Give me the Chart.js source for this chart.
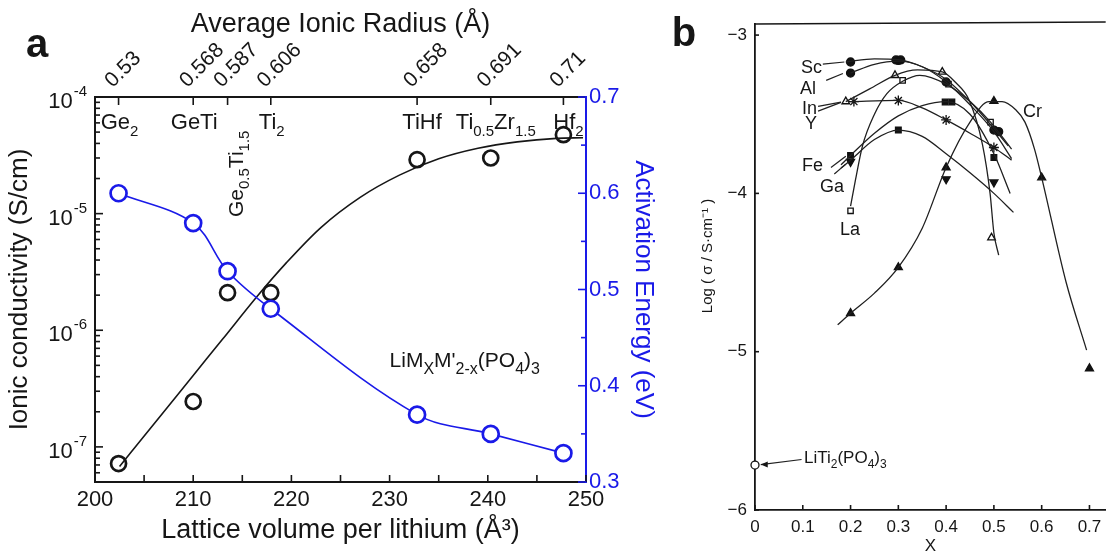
<!DOCTYPE html>
<html>
<head>
<meta charset="utf-8">
<script src="https://cdn.jsdelivr.net/npm/chart.js@4.4.1/dist/chart.umd.min.js"></script>
<style>
  html, body { margin: 0; padding: 0; background: #fff; width: 1112px; height: 552px; overflow: hidden; }
  #wrapA { position: absolute; left: 0; top: 0; width: 680px; height: 552px; }
  #wrapB { position: absolute; left: 660px; top: 0; width: 452px; height: 552px; }
</style>
</head>
<body>
<div id="wrapA"><canvas id="chartA" width="680" height="552"></canvas></div>
<div id="wrapB"><canvas id="chartB" width="452" height="552"></canvas></div>
<script>
// ---------- panel a data ----------
var volumes = [202.4, 210.0, 213.5, 217.9, 232.8, 240.3, 247.7];
var radiusLabels = ['0.53', '0.568', '0.587', '0.606', '0.658', '0.691', '0.71'];
var conductivity = [7.2e-8, 2.45e-7, 2.1e-6, 2.1e-6, 2.9e-5, 3.0e-5, 4.75e-5];
var activation = [0.600, 0.569, 0.519, 0.480, 0.370, 0.350, 0.330];
// black fit line
var fitVolume = [202.5, 206, 210, 213, 216.5, 219.5, 223, 227, 231, 235, 239, 243, 247, 249.7];
var fitConductivity = [6.8e-8, 1.57e-7, 4.1e-7, 8.4e-7, 1.95e-6, 3.8e-6, 7.6e-6, 1.38e-5, 2.14e-5, 2.95e-5, 3.63e-5, 4.12e-5, 4.42e-5, 4.47e-5];
var compositionLabels = [
  [['Ge', 0], ['2', 1]],
  [['GeTi', 0]],
  [['Ge', 0], ['0.5', 1], ['Ti', 0], ['1.5', 1]],
  [['Ti', 0], ['2', 1]],
  [['TiHf', 0]],
  [['Ti', 0], ['0.5', 1], ['Zr', 0], ['1.5', 1]],
  [['Hf', 0], ['2', 1]]
];
var formulaLabel = [['LiM', 0], ['X', 1], ["M'", 0], ['2-x', 1], ['(PO', 0], ['4', 1], [')', 0], ['3', 1]];
var xMajorTicks = [200, 210, 220, 230, 240, 250];
var xMinorTicks = [205, 215, 225, 235, 245];
var yMajorTicks = [1e-7, 1e-6, 1e-5, 1e-4];
var yTickExponents = ['-7', '-6', '-5', '-4'];
var eMajorTicks = [0.3, 0.4, 0.5, 0.6, 0.7];
var eMinorTicks = [0.35, 0.45, 0.55, 0.65];

// ---------- panel b data (x, log sigma) ----------
var scCurve = [[0.19, -3.17], [0.25, -3.15], [0.3, -3.155], [0.35, -3.2], [0.4, -3.28], [0.45, -3.42], [0.5, -3.59], [0.53, -3.7]];
var alCurve = [[0.2, -3.24], [0.25, -3.185], [0.3, -3.165], [0.35, -3.2], [0.4, -3.296], [0.45, -3.44], [0.5, -3.61], [0.537, -3.78]];
var inCurve = [[0.19, -3.42], [0.24, -3.34], [0.293, -3.254], [0.34, -3.22], [0.392, -3.233], [0.42, -3.3], [0.448, -3.41], [0.476, -3.69], [0.492, -4.0], [0.5, -4.25], [0.51, -4.39]];
var yCurve = [[0.2, -3.42], [0.3, -3.413], [0.35, -3.46], [0.4, -3.536], [0.45, -3.62], [0.5, -3.71], [0.537, -3.79]];
var laCurve = [[0.2, -4.08], [0.21, -3.92], [0.225, -3.7], [0.25, -3.5], [0.276, -3.37], [0.31, -3.29], [0.345, -3.254], [0.4, -3.31], [0.45, -3.42], [0.493, -3.55], [0.537, -3.72]];
var feCurve = [[0.18, -3.82], [0.2, -3.76], [0.25, -3.62], [0.3, -3.51], [0.35, -3.445], [0.4, -3.42], [0.45, -3.5], [0.5, -3.75], [0.534, -4.0]];
var gaCurve = [[0.18, -3.84], [0.2, -3.79], [0.25, -3.66], [0.3, -3.6], [0.35, -3.64], [0.4, -3.75], [0.45, -3.87], [0.5, -4.0], [0.541, -4.12]];
var crCurve = [[0.173, -4.83], [0.2, -4.757], [0.25, -4.63], [0.3, -4.467], [0.35, -4.22], [0.4, -3.836], [0.45, -3.55], [0.49, -3.42], [0.517, -3.42], [0.545, -3.47], [0.565, -3.55], [0.585, -3.72], [0.6, -3.9], [0.651, -4.56], [0.694, -4.99]];

var scPoints = [[0.2, -3.17], [0.295, -3.157], [0.305, -3.157], [0.5, -3.6]];
var alPoints = [[0.2, -3.24], [0.3, -3.16], [0.4, -3.296], [0.51, -3.61]];
var inPoints = [[0.19, -3.42], [0.293, -3.254], [0.392, -3.233], [0.495, -4.28]];
var yPoints = [[0.207, -3.42], [0.3, -3.413], [0.4, -3.536], [0.5, -3.71]];
var laPoints = [[0.2, -4.11], [0.309, -3.286], [0.405, -3.31], [0.493, -3.55]];
var fePoints = [[0.2, -3.76], [0.3, -3.6], [0.398, -3.423], [0.412, -3.423], [0.5, -3.773]];
var gaPoints = [[0.2, -3.80], [0.4, -3.91], [0.5, -3.93]];
var crPoints = [[0.2, -4.757], [0.3, -4.467], [0.4, -3.836], [0.5, -3.417], [0.6, -3.9], [0.7, -5.106]];
var litiPoint = [[0, -5.716]];

var scLeader = [[0.142, -3.184], [0.187, -3.17]];
var alLeader = [[0.149, -3.286], [0.184, -3.243]];
var inLeaderA = [[0.132, -3.45], [0.18, -3.423]];
var inLeaderB = [[0.132, -3.48], [0.18, -3.425]];
var feLeader = [[0.159, -3.836], [0.19, -3.765]];
var gaLeader = [[0.166, -3.878], [0.19, -3.815]];
var litiLeader = [[0.012, -5.713], [0.0975, -5.681]];

var bXTicks = [0, 0.1, 0.2, 0.3, 0.4, 0.5, 0.6, 0.7];
var bYTicks = [-6, -5, -4, -3];

var FONT = "'Liberation Sans', Arial, Helvetica, sans-serif";
var BLUE = '#1a1ae8';
var INK = '#161616';
Chart.defaults.font.family = FONT;
Chart.defaults.color = INK;

function pts(arr) { return arr.map(function (p) { return { x: p[0], y: p[1] }; }); }

// text with subscripts; y is the baseline
function drawRich(ctx, parts, x, y, size, subSize, align) {
  var w = 0;
  parts.forEach(function (p) {
    ctx.font = (p[1] ? subSize : size) + 'px ' + FONT;
    w += ctx.measureText(p[0]).width;
  });
  var cx = align === 'center' ? x - w / 2 : x;
  ctx.textAlign = 'left';
  ctx.textBaseline = 'alphabetic';
  parts.forEach(function (p) {
    ctx.font = (p[1] ? subSize : size) + 'px ' + FONT;
    ctx.fillText(p[0], cx, y + (p[1] ? size * 0.3 : 0));
    cx += ctx.measureText(p[0]).width;
  });
}

function tickMarks(ctx, scale, values, len, color, side) {
  ctx.save();
  ctx.strokeStyle = color;
  ctx.lineWidth = 1.6;
  values.forEach(function (v) {
    var p = scale.getPixelForValue(v);
    ctx.beginPath();
    if (side === 'bottom') { ctx.moveTo(p, scale.top); ctx.lineTo(p, scale.top - len); }
    if (side === 'top') { ctx.moveTo(p, scale.bottom); ctx.lineTo(p, scale.bottom + len); }
    if (side === 'left') { ctx.moveTo(scale.right, p); ctx.lineTo(scale.right + len, p); }
    if (side === 'right') { ctx.moveTo(scale.left, p); ctx.lineTo(scale.left - len, p); }
    ctx.stroke();
  });
  ctx.restore();
}

var logMinor = [];
[1e-8, 1e-7, 1e-6, 1e-5].forEach(function (d) {
  for (var k = 2; k <= 9; k++) { if (k * d >= 5e-8) logMinor.push(k * d); }
});

var panelAExtras = {
  id: 'panelAExtras',
  afterDraw: function (chart) {
    var ctx = chart.ctx, s = chart.scales, area = chart.chartArea;
    tickMarks(ctx, s.x, xMajorTicks.concat(xMinorTicks), 7, INK, 'bottom');
    tickMarks(ctx, s.x2, volumes, 8, INK, 'top');
    tickMarks(ctx, s.y, yMajorTicks, 8, INK, 'left');
    tickMarks(ctx, s.y, logMinor, 5, INK, 'left');
    tickMarks(ctx, s.y1, eMajorTicks, 8, BLUE, 'right');
    tickMarks(ctx, s.y1, eMinorTicks, 5, BLUE, 'right');

    ctx.save();
    ctx.fillStyle = INK;
    // log tick labels: 10 with a raised exponent
    yMajorTicks.forEach(function (v, i) {
      var py = s.y.getPixelForValue(v);
      ctx.textAlign = 'right';
      ctx.textBaseline = 'alphabetic';
      ctx.font = '15px ' + FONT;
      var ew = ctx.measureText(yTickExponents[i]).width;
      ctx.fillText(yTickExponents[i], 87, py - 1);
      ctx.font = '22px ' + FONT;
      ctx.fillText('10', 86 - ew, py + 11);
    });

    compositionLabels.forEach(function (parts, i) {
      var px = s.x.getPixelForValue(volumes[i]);
      if (i === 2) {
        ctx.save();
        ctx.translate(px + 15, area.top + 120);
        ctx.rotate(-Math.PI / 2);
        drawRich(ctx, parts, 0, 0, 21, 15, 'left');
        ctx.restore();
      } else {
        drawRich(ctx, parts, px + (i >= 4 ? 5 : 1), area.top + 32, 22, 15, 'center');
      }
    });
    drawRich(ctx, formulaLabel, s.x.getPixelForValue(230), s.y.getPixelForValue(4.8e-7), 21, 16, 'left');

    ctx.font = 'bold 40px ' + FONT;
    ctx.textAlign = 'center';
    ctx.textBaseline = 'middle';
    ctx.fillText('a', 37, 46);
    ctx.restore();
  }
};

new Chart(document.getElementById('chartA'), {
  type: 'scatter',
  data: {
    datasets: [
      {
        data: fitVolume.map(function (v, i) { return { x: v, y: fitConductivity[i] }; }),
        yAxisID: 'y', showLine: true, borderColor: INK, borderWidth: 1.6,
        pointRadius: 0, cubicInterpolationMode: 'monotone', order: 3
      },
      {
        data: volumes.map(function (v, i) { return { x: v, y: conductivity[i] }; }),
        yAxisID: 'y', pointRadius: 7.5, pointBorderWidth: 2.7,
        pointBorderColor: INK, pointBackgroundColor: 'rgba(0,0,0,0)', order: 2
      },
      {
        data: volumes.map(function (v, i) { return { x: v, y: activation[i] }; }),
        yAxisID: 'y1', showLine: true, borderColor: BLUE, borderWidth: 1.6,
        tension: 0.35, pointRadius: 8, pointBorderWidth: 2.7,
        pointBorderColor: BLUE, pointBackgroundColor: '#fff', order: 1
      }
    ]
  },
  options: {
    responsive: false, animation: false, events: [],
    layout: { padding: 0 },
    plugins: { legend: { display: false }, tooltip: { enabled: false } },
    scales: {
      x: {
        type: 'linear', position: 'bottom', min: 200, max: 250,
        afterBuildTicks: function (sc) { sc.ticks = xMajorTicks.map(function (v) { return { value: v }; }); },
        ticks: { font: { size: 22 }, color: INK, padding: 5, maxRotation: 0, autoSkip: false },
        grid: { drawOnChartArea: false, drawTicks: false },
        border: { color: INK, width: 2 },
        title: { display: true, text: 'Lattice volume per lithium (\u00C5\u00B3)', font: { size: 27 }, color: INK, padding: { top: 0, bottom: 5 } },
        afterFit: function (sc) { sc.height = 70; }
      },
      x2: {
        type: 'linear', position: 'top', min: 200, max: 250,
        afterBuildTicks: function (sc) { sc.ticks = volumes.map(function (v) { return { value: v }; }); },
        ticks: {
          callback: function (v, i) { return radiusLabels[i]; },
          minRotation: 45, maxRotation: 45, autoSkip: false,
          font: { size: 21 }, color: INK, padding: 4, labelOffset: 8
        },
        grid: { drawOnChartArea: false, drawTicks: false },
        border: { color: INK, width: 2 },
        title: { display: true, text: 'Average Ionic Radius (\u00C5)', font: { size: 27 }, color: INK, padding: { top: 8, bottom: 0 } },
        afterFit: function (sc) { sc.height = 97; }
      },
      y: {
        type: 'logarithmic', position: 'left', min: 5e-8, max: 1e-4,
        afterBuildTicks: function (sc) { sc.ticks = yMajorTicks.map(function (v) { return { value: v }; }); },
        ticks: { display: false },
        grid: { drawOnChartArea: false, drawTicks: false },
        border: { color: INK, width: 2 },
        title: { display: true, text: 'Ionic conductivity (S/cm)', font: { size: 26 }, color: INK, padding: { top: 4, bottom: 0 } },
        afterFit: function (sc) { sc.width = 95; }
      },
      y1: {
        type: 'linear', position: 'right', min: 0.3, max: 0.7,
        afterBuildTicks: function (sc) { sc.ticks = eMajorTicks.map(function (v) { return { value: v }; }); },
        ticks: { callback: function (v) { return v.toFixed(1); }, font: { size: 22 }, color: BLUE, padding: 3, autoSkip: false },
        grid: { drawOnChartArea: false, drawTicks: false },
        border: { color: BLUE, width: 2 },
        title: { display: true, text: 'Activation Energy (eV)', font: { size: 26 }, color: BLUE, padding: { top: 21, bottom: 0 } },
        afterFit: function (sc) { sc.width = 94; }
      }
    }
  },
  plugins: [panelAExtras]
});

// ---------- panel b ----------
var bLabels = [
  ['Sc', 141, 68], ['Al', 140, 89], ['In', 142, 109], ['Y', 145, 124],
  ['Fe', 142, 166], ['Ga', 160, 187], ['La', 180, 230], ['Cr', 363, 112]
];

var panelBExtras = {
  id: 'panelBExtras',
  afterDraw: function (chart) {
    var ctx = chart.ctx, s = chart.scales, area = chart.chartArea;
    tickMarks(ctx, s.x, bXTicks, 5, INK, 'bottom');
    tickMarks(ctx, s.y, bYTicks, 4, INK, 'left');
    ctx.save();
    ctx.strokeStyle = INK;
    ctx.lineWidth = 1.6;
    ctx.beginPath();
    ctx.moveTo(area.left, area.top);
    ctx.lineTo(area.right, area.top - 2);
    ctx.stroke();

    // arrow head on the LiTi2(PO4)3 leader
    var ax = s.x.getPixelForValue(litiLeader[0][0]), ay = s.y.getPixelForValue(litiLeader[0][1]);
    ctx.fillStyle = INK;
    ctx.beginPath();
    ctx.moveTo(ax, ay);
    ctx.lineTo(ax + 7, ay - 3);
    ctx.lineTo(ax + 7, ay + 3);
    ctx.closePath();
    ctx.fill();

    ctx.font = '18px ' + FONT;
    ctx.textAlign = 'left';
    ctx.textBaseline = 'middle';
    bLabels.forEach(function (l) { ctx.fillText(l[0], l[1], l[2]); });
    drawRich(ctx, [['LiTi', 0], ['2', 1], ['(PO', 0], ['4', 1], [')', 0], ['3', 1]], 144, 463, 17, 12, 'left');

    // rotated axis title, centred where the reference puts it
    ctx.save();
    ctx.translate(52, 256);
    ctx.rotate(-Math.PI / 2);
    ctx.font = '15px ' + FONT;
    ctx.textAlign = 'center';
    ctx.fillText('Log ( \u03C3 / S\u00B7cm\u207B\u00B9 )', 0, 0);
    ctx.restore();

    ctx.font = 'bold 40px ' + FONT;
    ctx.textAlign = 'center';
    ctx.fillText('b', 24, 46);
    ctx.restore();
  }
};

function curveSet(arr) {
  return { data: pts(arr), showLine: true, borderColor: '#202020', borderWidth: 1.3, pointRadius: 0, cubicInterpolationMode: 'monotone' };
}
function leaderSet(arr) {
  return { data: pts(arr), showLine: true, borderColor: '#202020', borderWidth: 1.2, pointRadius: 0 };
}
function markerSet(arr, style, filled, rot, r) {
  return {
    data: pts(arr), showLine: false, pointStyle: style, pointRadius: r || 4,
    pointRotation: rot || 0, pointBorderColor: '#111', pointBorderWidth: 1.3,
    pointBackgroundColor: filled ? '#111' : '#fff', clip: false
  };
}

new Chart(document.getElementById('chartB'), {
  type: 'scatter',
  data: {
    datasets: [
      curveSet(scCurve), curveSet(alCurve), curveSet(inCurve), curveSet(yCurve),
      curveSet(laCurve), curveSet(feCurve), curveSet(gaCurve), curveSet(crCurve),
      leaderSet(scLeader), leaderSet(alLeader), leaderSet(inLeaderA), leaderSet(inLeaderB),
      leaderSet(feLeader), leaderSet(gaLeader), leaderSet(litiLeader),
      markerSet(scPoints, 'circle', true), markerSet(alPoints, 'circle', true),
      markerSet(inPoints, 'triangle', false, 0, 4.4), markerSet(yPoints, 'star', true, 0, 5),
      markerSet(laPoints, 'rect', false, 0, 3.8), markerSet(fePoints, 'rect', true),
      markerSet(gaPoints, 'triangle', true, 180, 4.6), markerSet(crPoints, 'triangle', true, 0, 4.6),
      markerSet(litiPoint, 'circle', false, 0, 4)
    ]
  },
  options: {
    responsive: false, animation: false, events: [],
    layout: { padding: { top: 24, right: 0, left: 0, bottom: 0 } },
    plugins: { legend: { display: false }, tooltip: { enabled: false } },
    scales: {
      x: {
        type: 'linear', min: 0, max: 0.734,
        afterBuildTicks: function (sc) { sc.ticks = bXTicks.map(function (v) { return { value: v }; }); },
        ticks: { callback: function (v) { return v === 0 ? '0' : v.toFixed(1); }, font: { size: 17 }, color: INK, padding: 7, maxRotation: 0, autoSkip: false },
        grid: { drawOnChartArea: false, drawTicks: false },
        border: { color: INK, width: 1.8 },
        title: { display: true, text: 'X', font: { size: 17, lineHeight: 0.7 }, color: INK, padding: 0 },
        afterFit: function (sc) { sc.height = 42; }
      },
      y: {
        type: 'linear', min: -6, max: -2.93,
        afterBuildTicks: function (sc) { sc.ticks = bYTicks.map(function (v) { return { value: v }; }); },
        ticks: { callback: function (v) { return '\u2212' + Math.abs(v); }, font: { size: 17 }, color: INK, padding: 8, autoSkip: false },
        grid: { drawOnChartArea: false, drawTicks: false },
        border: { color: INK, width: 1.8 },
        afterFit: function (sc) { sc.width = 95; }
      }
    }
  },
  plugins: [panelBExtras]
});
</script>
</body>
</html>
